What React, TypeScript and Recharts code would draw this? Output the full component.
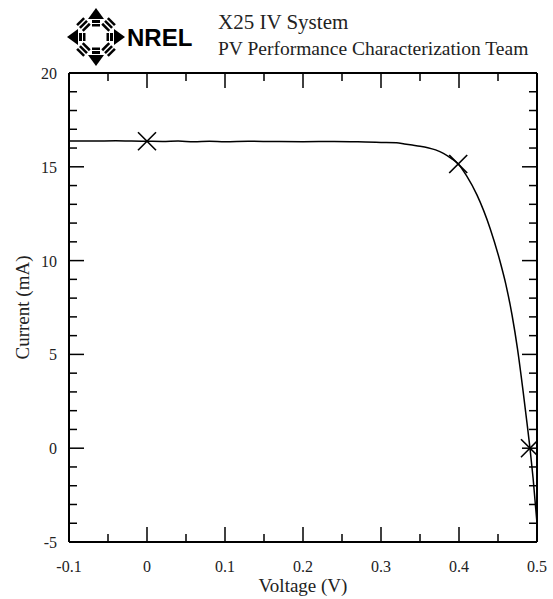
import React from 'react';
import {
  ComposedChart,
  Line,
  Scatter,
  XAxis,
  YAxis,
} from 'recharts';

// I-V curve: voltage (V) and current (mA)
const voltage = [
  -0.1, -0.07, -0.04, -0.02, 0, 0.02, 0.04, 0.06, 0.08, 0.1, 0.13, 0.16, 0.2,
  0.24, 0.28, 0.3, 0.32, 0.33, 0.34, 0.35, 0.36, 0.37, 0.38, 0.39, 0.399,
  0.41, 0.423, 0.44, 0.453, 0.46, 0.468, 0.475, 0.482, 0.487, 0.491, 0.495, 0.5,
];
const current = [
  16.38, 16.37, 16.39, 16.37, 16.36, 16.35, 16.37, 16.33, 16.36, 16.34, 16.36,
  16.35, 16.34, 16.35, 16.32, 16.3, 16.28, 16.22, 16.16, 16.1, 16.02, 15.9,
  15.72, 15.45, 15.15, 14.5, 13.5, 11.7, 9.9, 8.75, 7.1, 5.3, 3.1, 1.4, 0,
  -1.6, -4.0,
];

// Isc, max power point, Voc
const markerV = [0, 0.399, 0.491];
const markerI = [16.36, 15.15, 0];

const xTicks = [-0.1, -0.05, 0, 0.05, 0.1, 0.15, 0.2, 0.25, 0.3, 0.35, 0.4, 0.45, 0.5];
const yTicks = [
  -5, -4, -3, -2, -1, 0, 1, 2, 3, 4, 5, 6, 7, 8, 9, 10, 11, 12, 13, 14, 15, 16,
  17, 18, 19, 20,
];

const curve = voltage.map((v, i) => ({ v, i: current[i] }));
const markers = markerV.map((v, k) => ({ v, i: markerI[k] }));

const W = 553;
const H = 599;
const MARGIN = { top: 72, right: 15, bottom: 0, left: 0 };
// frame edges that the top/right axes sit on (1px axis boxes)
const PLOT_TOP = MARGIN.top + 1;
const PLOT_RIGHT = W - MARGIN.right - 1;

const FONT = '"Liberation Serif", "Times New Roman", serif';
const INK = '#222';

const isMajorX = (v: number) => Math.round(Math.abs(v) * 100) % 10 === 0;
const isMajorY = (v: number) => Math.round(Math.abs(v)) % 5 === 0;
const fmtX = (v: number) => (v === 0 ? '0' : String(Math.round(v * 10) / 10));

// bottom tick also draws the matching inward tick on the top edge
function BottomTick({ x, y, payload }: any) {
  const len = isMajorX(payload.value) ? 15 : 8;
  return (
    <g>
      <line x1={x} y1={y} x2={x} y2={y - len} stroke="#000" strokeWidth={1.5} />
      <line x1={x} y1={PLOT_TOP} x2={x} y2={PLOT_TOP + len} stroke="#000" strokeWidth={1.5} />
      {len === 15 && (
        <text x={x} y={y + 30} textAnchor="middle" fontFamily={FONT} fontSize={16} fill={INK}>
          {fmtX(payload.value)}
        </text>
      )}
    </g>
  );
}

// left tick also draws the matching inward tick on the right edge
function LeftTick({ x, y, payload }: any) {
  const len = isMajorY(payload.value) ? 15 : 8;
  return (
    <g>
      <line x1={x} y1={y} x2={x + len} y2={y} stroke="#000" strokeWidth={1.5} />
      <line x1={PLOT_RIGHT} y1={y} x2={PLOT_RIGHT - len} y2={y} stroke="#000" strokeWidth={1.5} />
      {len === 15 && (
        <text x={x - 12} y={y + 6} textAnchor="end" fontFamily={FONT} fontSize={16} fill={INK}>
          {payload.value}
        </text>
      )}
    </g>
  );
}

function Cross({ cx, cy }: any) {
  const s = 9;
  return (
    <g stroke="#000" strokeWidth={1.6}>
      <line x1={cx - s} y1={cy - s} x2={cx + s} y2={cy + s} />
      <line x1={cx - s} y1={cy + s} x2={cx + s} y2={cy - s} />
    </g>
  );
}

function Logo() {
  const cx = 96;
  const cy = 37;
  return (
    <g fill="#000">
      {[0, 90, 180, 270].map((a) => (
        <g key={a} transform={`rotate(${a} ${cx} ${cy})`}>
          <polygon points={`${cx},${cy - 29} ${cx - 8},${cy - 18} ${cx + 8},${cy - 18}`} />
          <rect x={cx - 4} y={cy - 17} width={8} height={3} />
          <rect x={cx - 4} y={cy - 13} width={8} height={2.5} />
        </g>
      ))}
      {[45, 135, 225, 315].map((a) => (
        <g key={a} transform={`rotate(${a} ${cx} ${cy})`}>
          <rect x={cx - 5} y={cy - 23} width={10} height={2.5} />
          <rect x={cx - 5} y={cy - 19} width={10} height={2.5} />
          <rect x={cx - 5} y={cy - 15} width={10} height={2.5} />
        </g>
      ))}
      <text
        x={127}
        y={46}
        fontFamily='"Liberation Sans", Arial, sans-serif'
        fontWeight="bold"
        fontSize={24}
        fill="#000"
      >
        NREL
      </text>
    </g>
  );
}

export default function App() {
  return (
    <div style={{ position: 'absolute', left: 0, top: 0, width: W, height: H, background: '#fff' }}>
      <ComposedChart width={W} height={H} data={curve} margin={MARGIN}>
        <XAxis
          dataKey="v"
          type="number"
          domain={[-0.1, 0.5]}
          ticks={xTicks}
          interval={0}
          allowDataOverflow
          height={57}
          tickSize={0}
          tickMargin={0}
          tickLine={false}
          axisLine={{ stroke: '#000', strokeWidth: 2 }}
          tick={<BottomTick />}
          label={{
            value: 'Voltage (V)',
            position: 'center',
            dy: 15,
            style: { fontFamily: FONT, fontSize: 19, fill: INK },
          }}
        />
        <XAxis
          xAxisId="top"
          dataKey="v"
          orientation="top"
          type="number"
          domain={[-0.1, 0.5]}
          height={1}
          tick={false}
          tickLine={false}
          axisLine={{ stroke: '#000', strokeWidth: 2 }}
        />
        <YAxis
          type="number"
          domain={[-5, 20]}
          ticks={yTicks}
          interval={0}
          allowDataOverflow
          width={69}
          tickSize={0}
          tickMargin={0}
          tickLine={false}
          axisLine={{ stroke: '#000', strokeWidth: 2 }}
          tick={<LeftTick />}
          label={{
            value: 'Current (mA)',
            angle: -90,
            position: 'center',
            dx: -12,
            style: { fontFamily: FONT, fontSize: 19, fill: INK },
          }}
        />
        <YAxis
          yAxisId="right"
          orientation="right"
          type="number"
          domain={[-5, 20]}
          width={1}
          tick={false}
          tickLine={false}
          axisLine={{ stroke: '#000', strokeWidth: 2 }}
        />
        {/* invisible copy so the top and right frame axes get drawn */}
        <Line
          xAxisId="top"
          yAxisId="right"
          dataKey="i"
          stroke="none"
          dot={false}
          legendType="none"
          isAnimationActive={false}
        />
        <Line
          dataKey="i"
          type="monotone"
          stroke="#000"
          strokeWidth={1.5}
          dot={false}
          isAnimationActive={false}
        />
        <Scatter data={markers} dataKey="i" shape={<Cross />} isAnimationActive={false} />
      </ComposedChart>
      <svg
        width={W}
        height={H}
        style={{ position: 'absolute', left: 0, top: 0, pointerEvents: 'none' }}
      >
        <Logo />
        <text x={218} y={29} fontFamily={FONT} fontSize={21} fill={INK}>
          X25 IV System
        </text>
        <text x={218} y={55} fontFamily={FONT} fontSize={19.5} fill={INK}>
          PV Performance Characterization Team
        </text>
      </svg>
    </div>
  );
}
